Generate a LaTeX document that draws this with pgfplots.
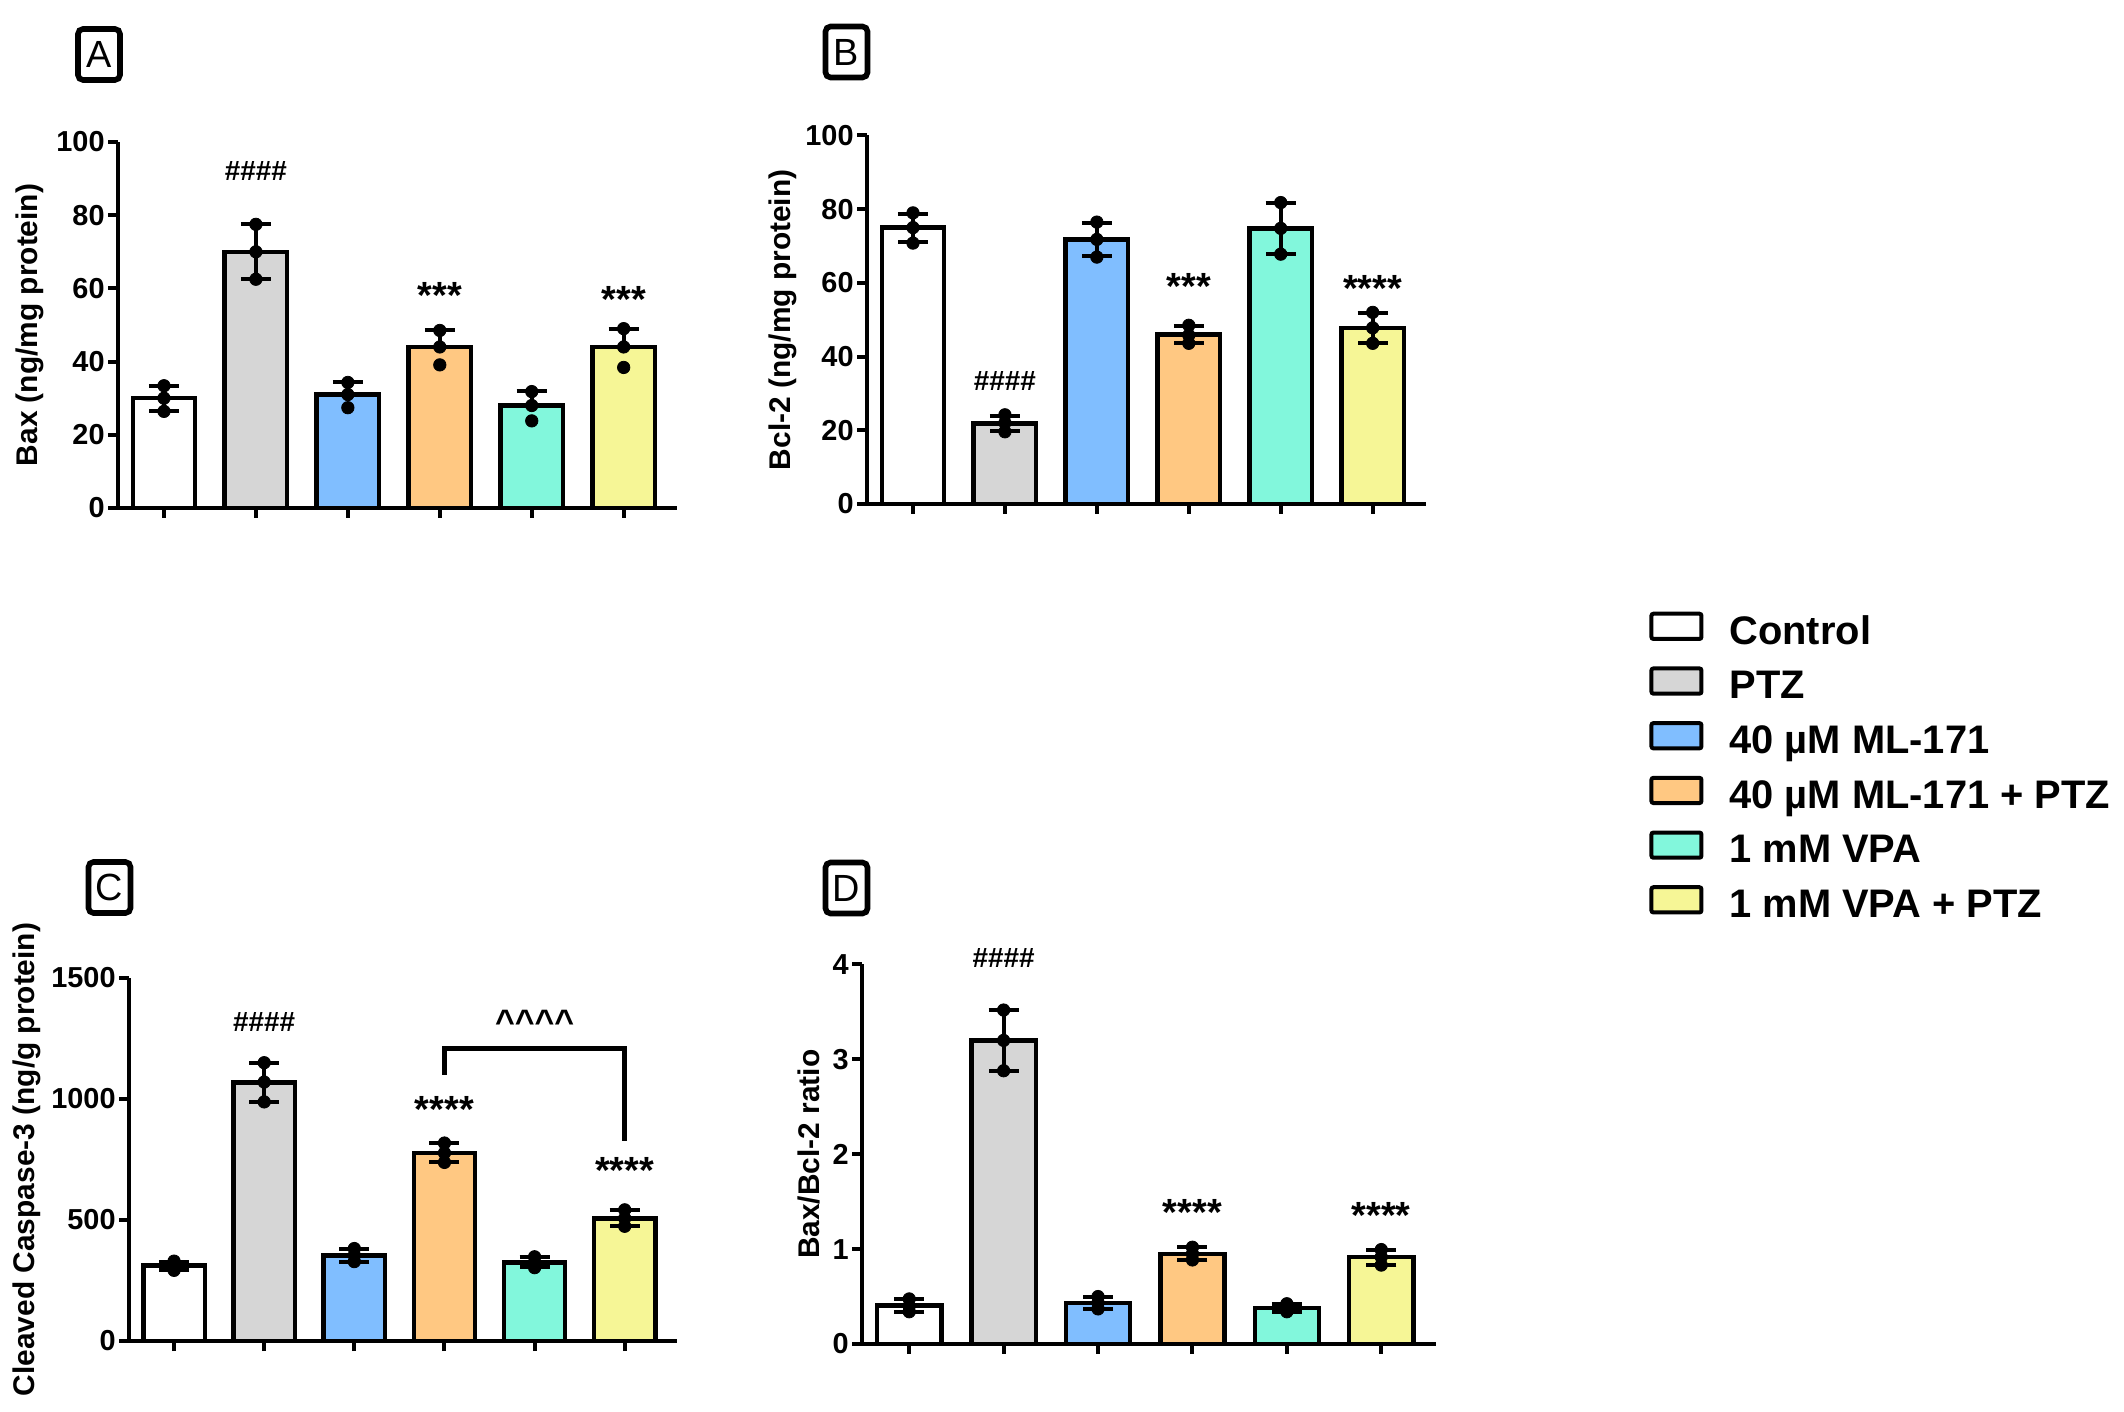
\documentclass[border=0pt]{standalone}
\usepackage{fontspec}
\setmainfont{Liberation Sans}
\setsansfont{Liberation Sans}
\usepackage{pgfplots}
\pgfplotsset{compat=1.18}
\definecolor{cgray}{RGB}{214,214,214}
\definecolor{cblue}{RGB}{128,190,255}
\definecolor{corange}{RGB}{255,200,130}
\definecolor{cteal}{RGB}{130,247,220}
\definecolor{cyellow}{RGB}{246,246,150}
\newcommand{\bbar}[6]{%
  \addplot[ybar, bar shift=0pt, bar width=0.68, fill=#1, draw=black, line width=2.2bp,
    error bars/.cd, y dir=#6, y explicit,
    error bar style={line width=2bp, black, solid},
    error mark options={rotate=90, mark size=7.5bp, line width=2bp, black}]
  coordinates {(#2,#3) += (0,#4) -= (0,#5)};}
\newcommand{\pts}[1]{%
  \addplot[only marks, mark=*, mark size=3.1bp, black, forget plot] coordinates {#1};}
\newcommand{\hashes}{\fontsize{14}{14}\selectfont\bfseries\#\#\#\#}
\pgfplotsset{
  panel/.style={
    scale only axis, clip=false,
    xmin=-0.5, xmax=5.58, ymin=0,
    axis lines=left, axis line style={-, line width=2.4bp},
    xtick={0,...,5}, xticklabels={,,,,,},
    tick align=outside, major tick length=5bp,
    tick style={line width=2bp, black},
    yticklabel style={font=\bfseries\fontsize{14.5}{14.5}\selectfont, inner sep=1.5bp},
    /pgf/number format/assume math mode=true,
    /pgf/number format/1000 sep={},
    ylabel style={font=\bfseries\fontsize{15}{15}\selectfont},
  },
}
\tikzset{
  stars/.style={anchor=base, yshift=-11.2bp, font=\bfseries\fontsize{19}{19}\selectfont},
  letter/.style={draw, line width=2.8bp, rounded corners=2.5bp, minimum width=21bp, minimum height=25.5bp, inner sep=0pt, font=\fontsize{19}{19}\selectfont},
}
\begin{document}
\begin{tikzpicture}
\useasboundingbox (0,0) rectangle (1062bp,706bp);
\node[letter] at (49.5bp,678.75bp) {A};
\node[letter] at (423.25bp,680bp) {B};
\node[letter] at (54.75bp,262.25bp) {C};
\node[letter] at (423.25bp,262bp) {D};

% Panel A
\begin{axis}[panel, at={(59bp,452bp)}, anchor=south west, width=279.5bp, height=183bp,
  ymax=100, ytick={0,20,...,100}, ylabel={Bax (ng/mg protein)},
  ylabel style={at={(axis description cs:-0.157,0.5)}, anchor=center}]
\bbar{white}{0}{30}{3.4}{3.6}{both}
\bbar{cgray}{1}{70}{7.5}{7.5}{both}
\bbar{cblue}{2}{31}{3.3}{0}{plus}
\bbar{corange}{3}{44}{4.5}{0}{plus}
\bbar{cteal}{4}{28}{4}{0}{plus}
\bbar{cyellow}{5}{44}{5}{0}{plus}
\pts{(0,33.4)(0,30)(0,26.4)(1,77.5)(1,70)(1,62.5)(2,34.3)(2,31)(2,27.4)(3,48.5)(3,44)(3,39.1)(4,31.8)(4,28)(4,23.8)(5,49)(5,44)(5,38.4)}
\node at (axis cs:1,92) {\hashes};
\node[stars] at (axis cs:3,60.5) {***};
\node[stars] at (axis cs:5,59.6) {***};
\end{axis}

% Panel B
\begin{axis}[panel, at={(433.5bp,454bp)}, anchor=south west, width=279.5bp, height=184.25bp,
  ymax=100, ytick={0,20,...,100}, ylabel={Bcl-2 (ng/mg protein)},
  ylabel style={at={(axis description cs:-0.150,0.5)}, anchor=center},
  legend entries={Control, PTZ, 40 µM ML-171, 40 µM ML-171 + PTZ, 1 mM VPA, 1 mM VPA + PTZ},
  legend cell align=left,
  legend style={at={(1.399,-0.2913)}, anchor=north west, draw=none, fill=none, inner sep=0pt,
    row sep=6.15bp, column sep=13bp, font=\bfseries\fontsize{20}{20}\selectfont,
    nodes={inner sep=0pt, text height=15bp, text depth=5bp}},
  legend image code/.code={\draw[#1, line width=2bp, rounded corners=1bp] (1bp,-2.4bp) rectangle (26bp,10.2bp);}]
\bbar{white}{0}{75}{3.7}{4}{both}
\bbar{cgray}{1}{21.8}{2.2}{2}{both}
\bbar{cblue}{2}{71.8}{4.5}{4.6}{both}
\bbar{corange}{3}{46}{2.4}{2.3}{both}
\bbar{cteal}{4}{74.8}{6.9}{7}{both}
\bbar{cyellow}{5}{47.8}{4}{4.1}{both}
\pts{(0,79)(0,75)(0,70.8)(1,24.2)(1,22)(1,19.6)(2,76.5)(2,71.8)(2,67)(3,48.5)(3,45.8)(3,43.6)(4,81.8)(4,74.8)(4,67.8)(5,52)(5,47.8)(5,43.6)}
\node at (axis cs:1,33.5) {\hashes};
\node[stars] at (axis cs:3,61.5) {***};
\node[stars] at (axis cs:5,61.1) {****};
\end{axis}

% Panel C
\begin{axis}[panel, at={(64.5bp,35.5bp)}, anchor=south west, width=274bp, height=181.5bp,
  ymax=1500, ytick={0,500,1000,1500}, ylabel={Cleaved Caspase-3 (ng/g protein)},
  ylabel style={at={(axis description cs:-0.186,0.5)}, anchor=center}]
\bbar{white}{0}{312}{16}{18}{both}
\bbar{cgray}{1}{1069}{80}{80}{both}
\bbar{cblue}{2}{354}{26}{26}{both}
\bbar{corange}{3}{777}{40}{39}{both}
\bbar{cteal}{4}{324}{23}{19}{both}
\bbar{cyellow}{5}{507}{33}{32}{both}
\pts{(0,330)(0,313)(0,292)(1,1150)(1,1070)(1,988)(2,382)(2,354)(2,328)(3,818)(3,777)(3,738)(4,348)(4,324)(4,303)(5,542)(5,507)(5,474)}
\draw[line width=2.6bp] (axis cs:3,1100) -- (axis cs:3,1210) -- (axis cs:5,1210) -- (axis cs:5,827);
\node at (axis cs:1,1319) {\hashes};
\node[stars] at (axis cs:3,995) {****};
\node[stars] at (axis cs:5,745) {****};
\node[anchor=base, yshift=-9bp, font=\bfseries\fontsize{17}{17}\selectfont] at (axis cs:4,1345) {\textasciicircum\textasciicircum\textasciicircum\textasciicircum};
\end{axis}

% Panel D
\begin{axis}[panel, at={(431bp,34bp)}, anchor=south west, width=287bp, height=189.75bp,
  ymax=4, ytick={0,1,2,3,4}, ylabel={Bax/Bcl-2 ratio},
  ylabel style={at={(axis description cs:-0.092,0.5)}, anchor=center}]
\bbar{white}{0}{0.405}{0.07}{0.066}{both}
\bbar{cgray}{1}{3.2}{0.32}{0.32}{both}
\bbar{cblue}{2}{0.435}{0.065}{0.065}{both}
\bbar{corange}{3}{0.948}{0.07}{0.062}{both}
\bbar{cteal}{4}{0.378}{0.046}{0.04}{both}
\bbar{cyellow}{5}{0.917}{0.077}{0.085}{both}
\pts{(0,0.475)(0,0.40)(0,0.34)(1,3.52)(1,3.2)(1,2.88)(2,0.50)(2,0.435)(2,0.37)(3,1.02)(3,0.95)(3,0.886)(4,0.424)(4,0.378)(4,0.34)(5,0.995)(5,0.917)(5,0.832)}
\node at (axis cs:1,4.07) {\hashes};
\node[stars] at (axis cs:3,1.48) {****};
\node[stars] at (axis cs:5,1.45) {****};
\end{axis}
\end{tikzpicture}
\end{document}
